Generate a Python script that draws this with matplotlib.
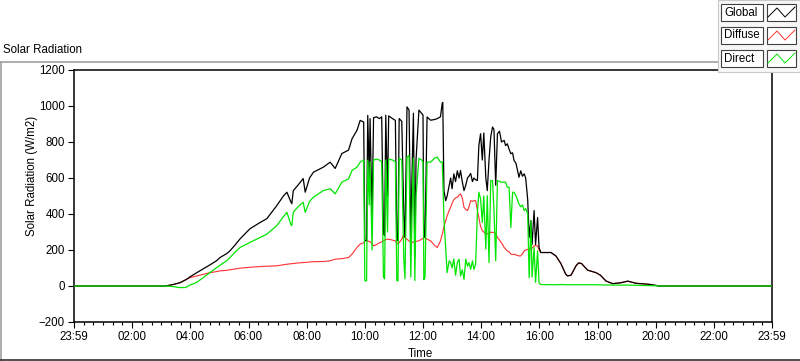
import matplotlib
matplotlib.use("Agg")
import matplotlib.pyplot as plt
from matplotlib.lines import Line2D
from matplotlib.patches import Rectangle
from matplotlib.ticker import MultipleLocator

# time of day in hours, with global / diffuse / direct radiation in W/m2
hours = [0.00, 3.15, 3.40, 3.64, 3.85, 3.98, 4.20, 4.44, 4.67, 4.90,
         5.02, 5.25, 5.36, 5.55, 5.71, 6.05, 6.40, 6.63, 6.97, 7.20,
         7.32, 7.45, 7.49, 7.54, 7.70, 7.88, 7.95, 8.10, 8.23, 8.57,
         8.81, 8.98, 9.21, 9.44, 9.56, 9.73, 9.84, 9.96,
         10.00, 10.06, 10.10, 10.15, 10.18, 10.25, 10.30, 10.40, 10.50, 10.58,
         10.64, 10.68, 10.72, 10.78, 10.82, 10.95, 11.05, 11.10, 11.14, 11.18,
         11.27, 11.34, 11.38, 11.45, 11.52, 11.58, 11.62, 11.67, 11.72, 11.76,
         11.86, 11.95, 12.00, 12.03, 12.07, 12.14, 12.26, 12.40, 12.49, 12.60,
         12.66, 12.68, 12.72, 12.78, 12.83, 12.90, 12.95, 13.00, 13.06, 13.12,
         13.18, 13.24, 13.29, 13.35, 13.41, 13.47, 13.53, 13.58, 13.64, 13.70,
         13.75, 13.81, 13.87, 13.92, 13.98, 14.04, 14.09, 14.16, 14.21, 14.27,
         14.33, 14.39, 14.44, 14.50, 14.56, 14.63, 14.70, 14.79, 14.84, 14.90,
         14.96, 15.02, 15.08, 15.13, 15.20, 15.30, 15.36, 15.42, 15.48, 15.53,
         15.60, 15.65, 15.71, 15.75, 15.82, 15.87, 15.94, 15.99,
         16.05, 16.40, 16.57, 16.74, 16.91, 16.97, 17.09, 17.26, 17.35, 17.45,
         17.66, 17.95, 18.10, 18.29, 18.52, 18.80, 19.04, 19.33, 19.79, 20.05,
         20.10, 24.00]

global_rad = [0, 0, 8, 18, 35, 50, 72, 95, 117, 140,
              158, 180, 195, 230, 262, 318, 353, 374, 446, 500,
              521, 470, 457, 530, 560, 597, 521, 600, 632, 660,
              688, 653, 736, 755, 818, 865, 920, 911,
              255, 250, 948, 600, 930, 380, 935, 940, 930, 940,
              290, 280, 949, 500, 945, 930, 920, 251, 260, 930,
              915, 400, 270, 995, 977, 270, 600, 960, 160, 700,
              977, 960, 950, 270, 280, 939, 921, 925, 930, 940,
              1014, 1020, 530, 474, 500, 560, 600, 540, 623, 580,
              640, 600, 642, 580, 530, 560, 600, 610, 625, 580,
              600, 590, 586, 780, 846, 700, 850, 600, 530, 700,
              830, 883, 870, 560, 846, 860, 800, 809, 780, 790,
              760, 735, 740, 698, 680, 604, 640, 610, 623, 600,
              480, 270, 363, 230, 419, 230, 381, 214,
              186, 186, 167, 125, 65, 56, 60, 112, 128, 125,
              88, 74, 60, 28, 13, 18, 27, 15, 9, 2,
              0, 0]

diffuse_rad = [0, 0, 8, 18, 35, 46, 55, 65, 74, 80,
               84, 87, 90, 95, 99, 104, 108, 110, 112, 118,
               121, 123, 124, 125, 128, 130, 131, 133, 135, 136,
               140, 149, 152, 158, 177, 214, 233, 240,
               251, 255, 250, 248, 245, 235, 223, 230, 240, 245,
               251, 255, 258, 260, 260, 255, 250, 240, 233, 240,
               260, 288, 270, 260, 250, 245, 242, 245, 242, 248,
               251, 260, 265, 270, 268, 260, 251, 225, 214, 250,
               288, 300, 330, 363, 390, 420, 437, 460, 480, 490,
               493, 505, 512, 490, 437, 425, 419, 440, 474, 470,
               474, 474, 420, 381, 330, 307, 300, 288, 290, 295,
               298, 298, 298, 290, 270, 255, 240, 214, 205, 195,
               190, 177, 175, 177, 172, 167, 167, 180, 195, 200,
               203, 205, 205, 210, 223, 225, 223, 200,
               186, 186, 167, 125, 65, 56, 60, 112, 128, 125,
               88, 74, 60, 28, 13, 18, 27, 15, 9, 2,
               0, 0]

direct_rad = [0, 0, -3, -9, -8, 5, 18, 46, 74, 102,
              115, 140, 158, 190, 214, 242, 270, 288, 335, 385,
              409, 345, 335, 410, 440, 465, 409, 470, 493, 530,
              540, 512, 577, 595, 642, 660, 688, 700,
              30, 28, 698, 450, 690, 200, 700, 705, 700, 690,
              50, 40, 700, 300, 705, 700, 690, 30, 28, 710,
              700, 150, 40, 716, 725, 50, 380, 710, 30, 500,
              709, 700, 690, 35, 50, 688, 688, 710, 716, 688,
              690, 600, 372, 205, 74, 140, 130, 100, 150, 60,
              130, 149, 56, 90, 37, 149, 110, 130, 93, 140,
              93, 120, 409, 521, 484, 353, 500, 205, 502, 130,
              586, 586, 420, 140, 586, 580, 577, 577, 577, 549,
              549, 325, 520, 521, 500, 456, 440, 450, 419, 430,
              400, 46, 363, 50, 214, 20, 195, 18,
              8, 7, 7, 8, 7, 7, 7, 7, 7, 7,
              7, 7, 6, 6, 5, 5, 5, 4, 3, 1,
              0, 0]

series_names = ["Global", "Diffuse", "Direct"]
series_colors = ["#000000", "#ff3030", "#00e600"]

time_ticks = [0, 2, 4, 6, 8, 10, 12, 14, 16, 18, 20, 22, 24]
time_labels = ["23:59", "02:00", "04:00", "06:00", "08:00", "10:00", "12:00",
               "14:00", "16:00", "18:00", "20:00", "22:00", "23:59"]

W, H = 800, 361
FONT = "Liberation Sans"
FS = 8.3


def fx(x):
    return x / W


def fy(y):
    return 1 - y / H


fig = plt.figure(figsize=(W / 100, H / 100), dpi=100)
fig.patch.set_facecolor("white")

ax = fig.add_axes([fx(74), fy(322), (772 - 74) / W, (322 - 70) / H])

ax.plot(hours, diffuse_rad, color=series_colors[1], lw=0.8, zorder=2)
ax.plot(hours, global_rad, color=series_colors[0], lw=0.9, zorder=3)
ax.plot(hours, direct_rad, color=series_colors[2], lw=0.9, zorder=4)

ax.set_xlim(0, 24)
ax.set_ylim(-200, 1200)
ax.set_xticks(time_ticks)
ax.set_xticklabels(time_labels)
ax.xaxis.set_minor_locator(MultipleLocator(1 / 3))
ax.set_yticks(range(-200, 1201, 200))

for s in ax.spines.values():
    s.set_linewidth(1.1)
ax.tick_params(which="major", direction="out", length=4.5, width=0.8,
               pad=2, labelsize=FS)
ax.tick_params(which="minor", direction="out", length=2.3, width=0.8)
for lab in ax.get_xticklabels() + ax.get_yticklabels():
    lab.set_fontfamily(FONT)

fig.text(fx(3), fy(50), "Solar Radiation", fontsize=FS, family=FONT,
         ha="left", va="center")
fig.text(fx(32), fy(176), "Solar Radiation (W/m2)", fontsize=FS, family=FONT,
         rotation=90, ha="center", va="center")
fig.text(fx(420), fy(354), "Time", fontsize=FS, family=FONT,
         ha="center", va="center")

# outer frame of the graph
fig.add_artist(Line2D([fx(0), fx(718)], [fy(62), fy(62)], color="#a0a0a0",
                      lw=1.2, transform=fig.transFigure))
fig.add_artist(Line2D([fx(0.6), fx(0.6)], [fy(62), fy(361)], color="#a0a0a0",
                      lw=1.2, transform=fig.transFigure))
fig.add_artist(Line2D([fx(0), fx(800)], [fy(360), fy(360)], color="#303030",
                      lw=1.2, transform=fig.transFigure))

# plot legend in the top right corner
fig.add_artist(Rectangle((fx(718), fy(72)), fx(82), 72 / H, transform=fig.transFigure,
                         facecolor="#f7f7f7", edgecolor="#c8c8c8", lw=0.8, zorder=5))
row_tops = [4, 27, 50]
for name, color, top in zip(series_names, series_colors, row_tops):
    fig.add_artist(Rectangle((fx(721), fy(top + 17)), fx(42), 17 / H,
                             transform=fig.transFigure, facecolor="white",
                             edgecolor="#404040", lw=0.8, zorder=6))
    fig.add_artist(Rectangle((fx(767), fy(top + 17)), fx(29), 17 / H,
                             transform=fig.transFigure, facecolor="white",
                             edgecolor="#404040", lw=0.8, zorder=6))
    fig.text(fx(724), fy(top + 8.5), name, fontsize=FS, family=FONT,
             ha="left", va="center", zorder=7)
    zx = [768, 777, 785, 795]
    zy = [top + 13, top + 4, top + 13, top + 3]
    fig.add_artist(Line2D([fx(v) for v in zx], [fy(v) for v in zy], color=color,
                          lw=0.7, transform=fig.transFigure, zorder=7))

fig.savefig("out.png", dpi=100)
